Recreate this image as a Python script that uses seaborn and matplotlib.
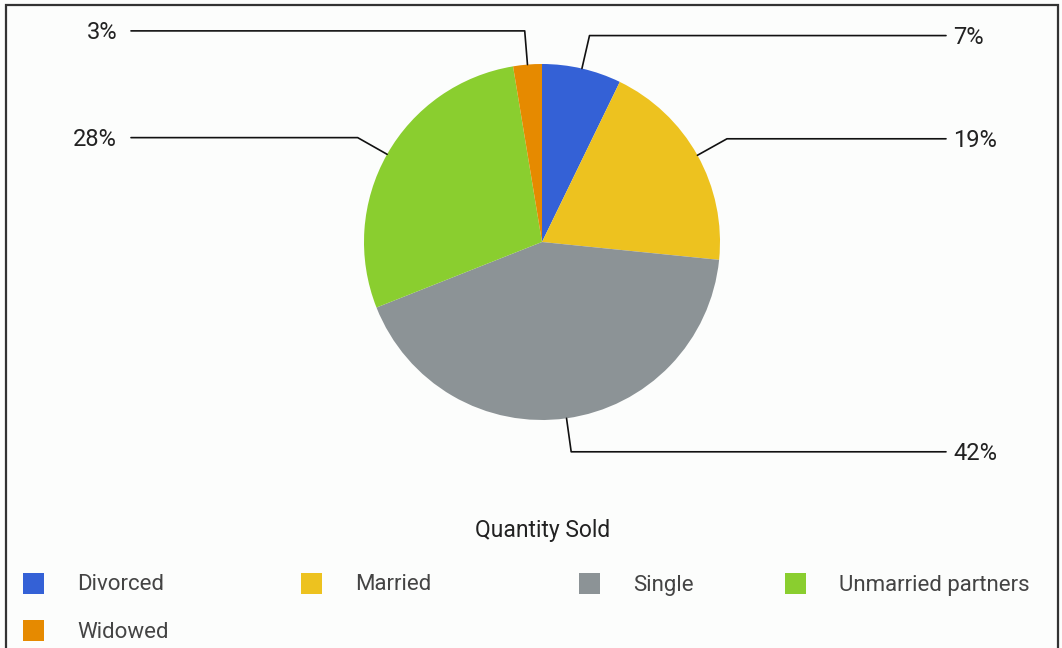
import numpy as np
import matplotlib
matplotlib.use("Agg")
import matplotlib.pyplot as plt
import matplotlib.patches as mpatches
import seaborn as sns

categories = ["Divorced", "Married", "Single", "Unmarried partners", "Widowed"]
quantity = [7.2, 19.4, 42.4, 28.4, 2.6]
colors = ["#3461D6", "#EDC21F", "#8C9396", "#8ACE2F", "#E68A00"]

sns.set_theme(style="white")
plt.rcParams["font.family"] = ["Roboto", "DejaVu Sans"]

W, H = 1062, 648
bg = "#FCFDFC"
fig = plt.figure(figsize=(W / 100, H / 100), dpi=100, facecolor=bg)
ax = fig.add_axes([0, 0, 1, 1])
ax.set_facecolor(bg)

cx, cy, R = 542, H - 242, 178
wedges, _ = ax.pie(quantity, colors=colors, startangle=90, counterclock=False,
                   center=(cx, cy), radius=R, wedgeprops=dict(linewidth=0))

# pie() resets the limits, so set them afterwards
ax.set_xlim(0, W)
ax.set_ylim(0, H)
ax.set_aspect("equal")
ax.axis("off")

# outer frame
ax.add_patch(mpatches.Rectangle((6, -10), 1052, H - 4.5 + 10 - 0.5, fill=False,
                                edgecolor="#333333", lw=1.6))

total = sum(quantity)
for w, v in zip(wedges, quantity):
    ang = np.deg2rad((w.theta1 + w.theta2) / 2)
    x0, y0 = cx + R * np.cos(ang), cy + R * np.sin(ang)
    x1, y1 = cx + 1.19 * R * np.cos(ang), cy + 1.19 * R * np.sin(ang)
    right = np.cos(ang) > 0
    x2 = 946 if right else 131
    ax.plot([x0, x1, x2], [y0, y1, y1], color="#111111", lw=1.2)
    ax.text(x2 + 7 if right else x2 - 14, y1 - 1.5, f"{round(v / total * 100)}%",
            ha="left" if right else "right", va="center", fontsize=17, color="#222222")

ax.text(543, H - 531, "Quantity Sold", ha="center", va="center", fontsize=16.5,
        color="#222222")

# legend
col_x = [23, 301, 579, 785]
row_y = [H - 583, H - 630]
for i, (cat, c) in enumerate(zip(categories, colors)):
    x = col_x[i % 4]
    y = row_y[i // 4]
    ax.add_patch(mpatches.Rectangle((x, y - 10.5), 21, 21, color=c, lw=0))
    ax.text(x + 54, y - 2, cat, ha="left", va="center", fontsize=16, color="#444444")

fig.savefig("out.png", dpi=100, facecolor=bg)
